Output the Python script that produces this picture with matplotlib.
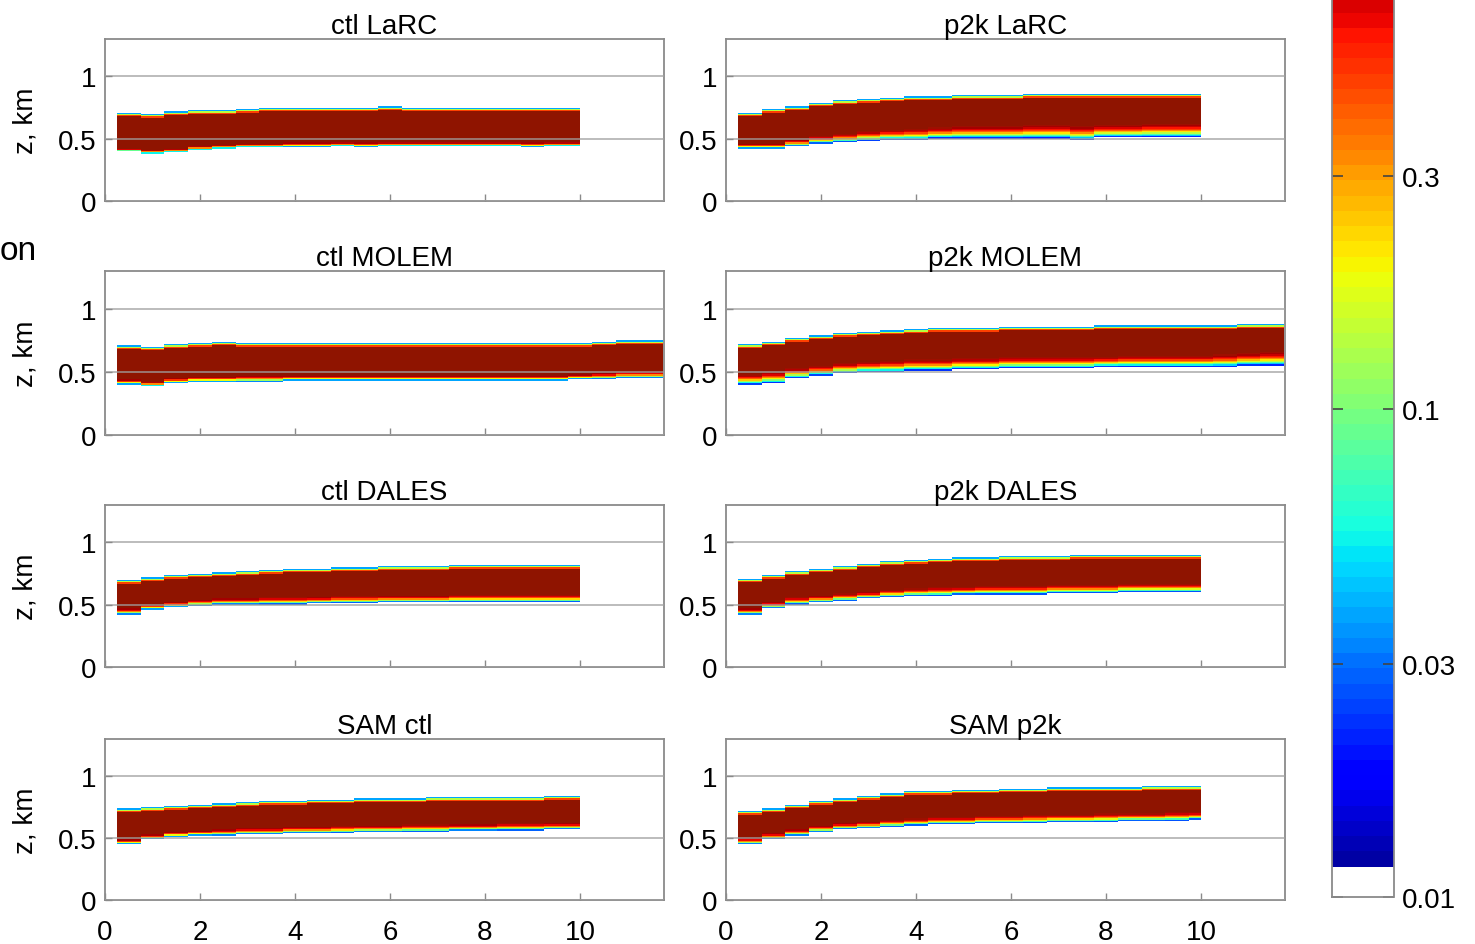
import numpy as np
import matplotlib
matplotlib.use("Agg")
import matplotlib.pyplot as plt
from matplotlib.colors import ListedColormap, LogNorm

plt.rcParams['font.family'] = ['Liberation Sans', 'DejaVu Sans']

# ---------------- data ----------------
# time column edges (days)
t_edges_short = [0.25, 0.75, 1.25, 1.75, 2.25, 2.75, 3.25, 3.75, 4.25, 4.75, 5.25,
                 5.75, 6.25, 6.75, 7.25, 7.75, 8.25, 8.75, 9.25, 9.75, 10.0]
t_edges_long = [0.25, 0.75, 1.25, 1.75, 2.25, 2.75, 3.25, 3.75, 4.25, 4.75, 5.25,
                5.75, 6.25, 6.75, 7.25, 7.75, 8.25, 8.75, 9.25, 9.75, 10.25,
                10.75, 11.25, 11.75]

# per-column cloud top, base of saturated core, lowest cloudy level (km)
ctl_larc_top = [0.68, 0.67, 0.69, 0.70, 0.70, 0.71, 0.72, 0.72, 0.72, 0.72, 0.72, 0.73, 0.72, 0.72, 0.72, 0.72, 0.72, 0.72, 0.72, 0.72]
ctl_larc_core = [0.42, 0.41, 0.42, 0.44, 0.45, 0.46, 0.46, 0.47, 0.47, 0.47, 0.47, 0.47, 0.47, 0.47, 0.47, 0.47, 0.47, 0.47, 0.47, 0.47]
ctl_larc_base = [0.40, 0.38, 0.39, 0.41, 0.42, 0.43, 0.43, 0.43, 0.43, 0.44, 0.43, 0.44, 0.44, 0.44, 0.44, 0.44, 0.44, 0.43, 0.44, 0.44]

p2k_larc_top = [0.68, 0.71, 0.73, 0.76, 0.78, 0.79, 0.80, 0.81, 0.81, 0.82, 0.82, 0.82, 0.83, 0.83, 0.83, 0.83, 0.83, 0.83, 0.83, 0.83]
p2k_larc_core = [0.46, 0.46, 0.49, 0.52, 0.54, 0.56, 0.57, 0.58, 0.59, 0.60, 0.60, 0.60, 0.61, 0.61, 0.60, 0.61, 0.61, 0.62, 0.62, 0.62]
p2k_larc_base = [0.42, 0.42, 0.44, 0.46, 0.47, 0.48, 0.49, 0.49, 0.50, 0.50, 0.50, 0.50, 0.50, 0.50, 0.49, 0.51, 0.51, 0.51, 0.51, 0.51]

ctl_molem_top = [0.68, 0.67, 0.69, 0.70, 0.71, 0.70, 0.70, 0.70, 0.70, 0.70, 0.70, 0.70, 0.70, 0.70, 0.70, 0.70, 0.70, 0.70, 0.70, 0.70, 0.71, 0.72, 0.72]
ctl_molem_core = [0.44, 0.42, 0.45, 0.46, 0.46, 0.47, 0.47, 0.47, 0.47, 0.47, 0.47, 0.47, 0.47, 0.47, 0.47, 0.47, 0.47, 0.47, 0.47, 0.48, 0.49, 0.50, 0.50]
ctl_molem_base = [0.40, 0.39, 0.41, 0.42, 0.42, 0.42, 0.42, 0.43, 0.43, 0.43, 0.43, 0.43, 0.43, 0.43, 0.43, 0.43, 0.43, 0.43, 0.43, 0.44, 0.44, 0.45, 0.45]

p2k_molem_top = [0.69, 0.71, 0.74, 0.76, 0.78, 0.79, 0.80, 0.81, 0.82, 0.82, 0.82, 0.83, 0.83, 0.83, 0.83, 0.84, 0.84, 0.84, 0.84, 0.84, 0.84, 0.85, 0.85]
p2k_molem_core = [0.48, 0.50, 0.53, 0.55, 0.57, 0.58, 0.59, 0.60, 0.60, 0.61, 0.61, 0.62, 0.62, 0.62, 0.62, 0.62, 0.63, 0.63, 0.63, 0.63, 0.64, 0.65, 0.66]
p2k_molem_base = [0.40, 0.41, 0.45, 0.47, 0.49, 0.50, 0.50, 0.51, 0.51, 0.52, 0.52, 0.53, 0.53, 0.53, 0.53, 0.54, 0.54, 0.54, 0.54, 0.54, 0.54, 0.55, 0.55]

ctl_dales_top = [0.67, 0.69, 0.71, 0.72, 0.73, 0.74, 0.75, 0.76, 0.76, 0.77, 0.77, 0.78, 0.78, 0.78, 0.79, 0.79, 0.79, 0.79, 0.79, 0.79]
ctl_dales_core = [0.47, 0.50, 0.52, 0.54, 0.55, 0.55, 0.56, 0.56, 0.56, 0.57, 0.57, 0.57, 0.57, 0.57, 0.58, 0.58, 0.58, 0.58, 0.58, 0.58]
ctl_dales_base = [0.42, 0.46, 0.48, 0.49, 0.50, 0.50, 0.50, 0.50, 0.51, 0.51, 0.51, 0.52, 0.52, 0.52, 0.52, 0.52, 0.52, 0.52, 0.52, 0.52]

p2k_dales_top = [0.68, 0.71, 0.74, 0.76, 0.78, 0.80, 0.82, 0.83, 0.84, 0.85, 0.85, 0.86, 0.86, 0.86, 0.87, 0.87, 0.87, 0.87, 0.87, 0.87]
p2k_dales_core = [0.47, 0.52, 0.56, 0.57, 0.59, 0.60, 0.62, 0.63, 0.64, 0.64, 0.65, 0.65, 0.65, 0.66, 0.66, 0.66, 0.67, 0.67, 0.67, 0.67]
p2k_dales_base = [0.42, 0.47, 0.50, 0.52, 0.53, 0.55, 0.56, 0.57, 0.57, 0.58, 0.58, 0.58, 0.58, 0.59, 0.59, 0.59, 0.60, 0.60, 0.60, 0.60]

sam_ctl_top = [0.71, 0.72, 0.73, 0.74, 0.75, 0.76, 0.77, 0.77, 0.78, 0.78, 0.79, 0.79, 0.79, 0.80, 0.80, 0.80, 0.80, 0.80, 0.81, 0.81]
sam_ctl_core = [0.49, 0.53, 0.55, 0.56, 0.57, 0.58, 0.58, 0.59, 0.59, 0.60, 0.60, 0.60, 0.61, 0.61, 0.61, 0.61, 0.62, 0.62, 0.62, 0.62]
sam_ctl_base = [0.45, 0.49, 0.51, 0.52, 0.52, 0.53, 0.53, 0.54, 0.54, 0.54, 0.55, 0.55, 0.55, 0.55, 0.56, 0.56, 0.56, 0.56, 0.57, 0.57]

sam_p2k_top = [0.69, 0.71, 0.74, 0.77, 0.79, 0.81, 0.83, 0.85, 0.85, 0.86, 0.86, 0.87, 0.87, 0.88, 0.88, 0.88, 0.88, 0.89, 0.89, 0.89]
sam_p2k_core = [0.50, 0.54, 0.57, 0.60, 0.62, 0.63, 0.65, 0.66, 0.67, 0.67, 0.68, 0.68, 0.69, 0.69, 0.69, 0.70, 0.70, 0.70, 0.71, 0.71]
sam_p2k_base = [0.45, 0.49, 0.52, 0.55, 0.57, 0.58, 0.59, 0.60, 0.61, 0.61, 0.62, 0.62, 0.62, 0.63, 0.63, 0.63, 0.64, 0.64, 0.64, 0.65]

titles = ["ctl LaRC", "p2k LaRC", "ctl MOLEM", "p2k MOLEM",
          "ctl DALES", "p2k DALES", "SAM ctl", "SAM p2k"]
cbar_ticks = [0.01, 0.03, 0.1, 0.3]
cbar_ticklabels = ["0.01", "0.03", "0.1", "0.3"]

panels = [
    (t_edges_short, ctl_larc_top, ctl_larc_core, ctl_larc_base),
    (t_edges_short, p2k_larc_top, p2k_larc_core, p2k_larc_base),
    (t_edges_long, ctl_molem_top, ctl_molem_core, ctl_molem_base),
    (t_edges_long, p2k_molem_top, p2k_molem_core, p2k_molem_base),
    (t_edges_short, ctl_dales_top, ctl_dales_core, ctl_dales_base),
    (t_edges_short, p2k_dales_top, p2k_dales_core, p2k_dales_base),
    (t_edges_short, sam_ctl_top, sam_ctl_core, sam_ctl_base),
    (t_edges_short, sam_p2k_top, sam_p2k_core, sam_p2k_base),
]

# ---------------- style ----------------
jet = plt.get_cmap('jet')(np.linspace(0, 1, 64))
jet[:2] = [1, 1, 1, 1]
jet[-1] = [0.56, 0.08, 0.0, 1.0]
jet[-2] = [0.62, 0.06, 0.0, 1.0]
cmap = ListedColormap(jet)
cmap.set_bad((1, 1, 1, 0))
norm = LogNorm(vmin=0.01, vmax=1.0)

z_edges = np.arange(0.0, 1.3001, 0.01)
z_mid = 0.5 * (z_edges[:-1] + z_edges[1:])


def build_field(top, core, base):
    field = np.full((len(z_mid), len(top)), np.nan)
    for j, (zt, zc, zb) in enumerate(zip(top, core, base)):
        inside = (z_mid >= zc) & (z_mid <= zt)
        field[inside, j] = 1.0
        above = (z_mid > zt) & (z_mid <= zt + 0.03)
        s = (z_mid[above] - zt) / 0.03
        field[above, j] = 0.9 * (0.02 / 0.9) ** s
        below = (z_mid < zc) & (z_mid >= zb)
        s = (zc - z_mid[below]) / max(zc - zb, 1e-6)
        field[below, j] = 0.9 * (0.015 / 0.9) ** (s ** 2)
    return field


W, H = 1475, 945
fig = plt.figure(figsize=(W / 100, H / 100), dpi=100)

col_left = [105, 726]
ax_w = 559
rows = [(40, 202), (272, 436), (506, 668), (740, 901)]
frame_col = '#8a8a8a'
fs = 20

for k, (tedges, top, core, base) in enumerate(panels):
    r, c = divmod(k, 2)
    y_top, y_bot = rows[r]
    ax = fig.add_axes([col_left[c] / W, 1 - y_bot / H, ax_w / W, (y_bot - y_top) / H])
    field = build_field(top, core, base)
    ax.pcolormesh(tedges, z_edges, field, cmap=cmap, norm=norm, shading='flat')
    ax.set_xlim(0, 11.77)
    ax.set_ylim(0, 1.3)
    ax.set_yticks([0, 0.5, 1])
    ax.set_yticklabels(['0', '0.5', '1'])
    ax.set_xticks([0, 2, 4, 6, 8, 10])
    if r == 3:
        ax.set_xticklabels(['0', '2', '4', '6', '8', '10'])
    else:
        ax.set_xticklabels([])
    ax.tick_params(direction='in', length=5, width=1, color=frame_col,
                   labelsize=fs, top=False, right=False)
    ax.tick_params(axis='x', pad=14)
    ax.tick_params(axis='y', pad=6)
    ax.grid(axis='y', color='#a0a0a0', alpha=0.7, lw=1.4)
    ax.set_axisbelow(False)
    for sp in ax.spines.values():
        sp.set_color(frame_col)
        sp.set_linewidth(1.3)
    ax.set_title(titles[k], fontsize=fs, pad=3)
    if c == 0:
        ax.set_ylabel('z, km', fontsize=fs, labelpad=14)

# colorbar
cax = fig.add_axes([1332 / W, 1 - 898 / H, 62 / W, (898 + 78) / H])
sm = matplotlib.cm.ScalarMappable(norm=norm, cmap=cmap)
cb = fig.colorbar(sm, cax=cax)
cb.set_ticks(cbar_ticks)
cb.set_ticklabels(cbar_ticklabels)
cb.minorticks_off()
cax.tick_params(which='both', direction='in', length=8, width=1.2, color='#444444',
                labelsize=fs, pad=6, left=True, right=True)
cb.outline.set_edgecolor(frame_col)
cb.outline.set_linewidth(1.3)

fig.text(0.0, 1 - 252 / H, 'on', fontsize=24, ha='left', va='center')

fig.savefig('out.png', dpi=100)
